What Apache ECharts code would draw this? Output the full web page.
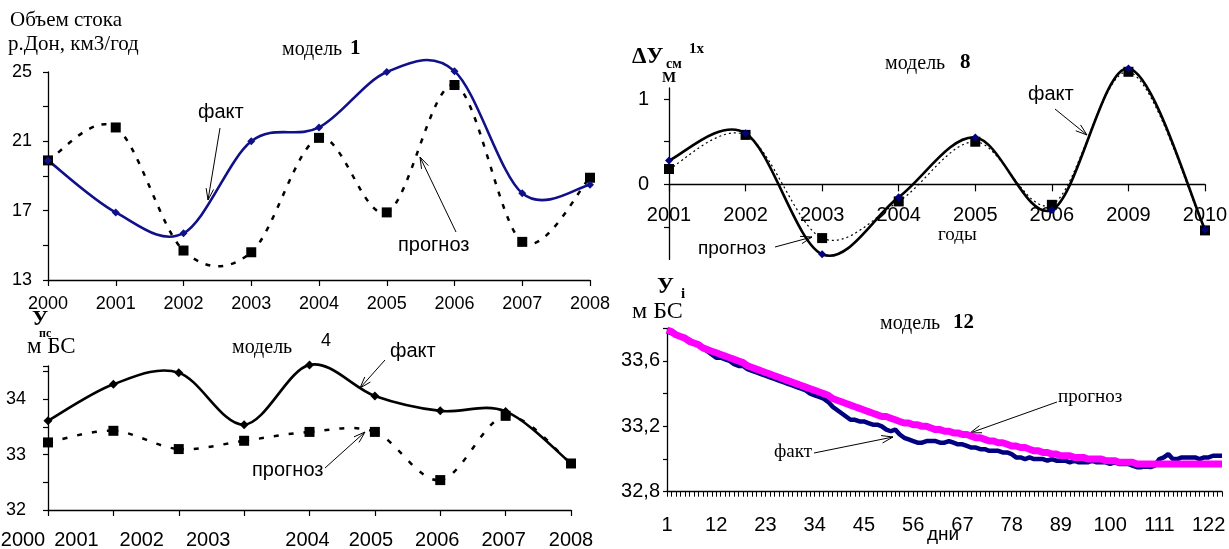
<!DOCTYPE html>
<html><head><meta charset="utf-8">
<script src="https://cdn.jsdelivr.net/npm/echarts@6/dist/echarts.min.js"></script>
<style>html,body{margin:0;padding:0;background:#fff}#c{width:1229px;height:549px}</style>
</head><body><div id="c"></div>
<script>
// ---- Data ----
const years1 = ['2000','2001','2002','2003','2004','2005','2006','2007','2008'];
const fact1 = [19.9, 16.9, 15.7, 21.0, 21.8, 25.0, 25.05, 18.0, 18.5];
const prog1 = [19.9, 21.8, 14.7, 14.6, 21.2, 16.9, 24.25, 15.2, 18.9];
const yTicks1 = [13, 17, 21, 25];

const years2 = ['2000','2001','2002','2003','2004','2005','2006','2007','2008'];
const fact2 = [33.61, 34.27, 34.48, 33.54, 34.62, 34.06, 33.79, 33.78, 32.84];
const prog2 = [33.22, 33.43, 33.10, 33.25, 33.41, 33.41, 32.54, 33.70, 32.84];
const yTicks2 = [32, 33, 34];

const years3 = ['2001','2002','2003','2004','2005','2006','2009','2010'];
const fact3 = [0.28, 0.60, -0.82, -0.15, 0.55, -0.30, 1.36, -0.53];
const prog3 = [0.18, 0.58, -0.63, -0.20, 0.50, -0.24, 1.32, -0.54];
const yTicks3 = [-0.5, 0, 0.5, 1];
const yLabels3 = [0, 1];

const days4 = [];
for (let d = 1; d <= 125; d++) days4.push(String(d));
const prog4 = [
 33.79,33.78,33.76,33.75,33.74,33.72,33.71,33.70,33.68,33.67,
 33.66,33.65,33.64,33.63,33.62,33.61,33.60,33.59,33.57,33.56,
 33.55,33.54,33.53,33.52,33.51,33.50,33.49,33.48,33.47,33.46,
 33.45,33.44,33.43,33.42,33.41,33.40,33.39,33.37,33.36,33.35,
 33.34,33.33,33.32,33.31,33.30,33.29,33.28,33.27,33.26,33.26,
 33.25,33.24,33.23,33.22,33.22,33.21,33.21,33.20,33.20,33.19,
 33.18,33.18,33.17,33.17,33.16,33.16,33.15,33.15,33.14,33.13,
 33.13,33.12,33.11,33.11,33.10,33.10,33.09,33.08,33.08,33.07,
 33.07,33.06,33.05,33.05,33.04,33.04,33.03,33.03,33.02,33.02,
 33.02,33.01,33.01,33.01,33.00,33.00,33.00,33.00,32.99,32.99,
 32.99,32.98,32.98,32.98,32.98,32.97,32.97,32.97,32.97,32.97,
 32.97,32.97,32.97,32.97,32.97,32.97,32.97,32.97,32.97,32.97,
 32.97,32.97,32.97,32.97,32.97];
const fact4 = [
 33.78,33.77,33.76,33.75,33.74,33.73,33.71,33.70,33.68,33.66,
 33.64,33.62,33.62,33.61,33.60,33.58,33.57,33.57,33.55,33.54,
 33.53,33.52,33.51,33.50,33.49,33.48,33.47,33.46,33.45,33.44,
 33.43,33.42,33.40,33.39,33.38,33.37,33.35,33.32,33.30,33.28,
 33.26,33.24,33.24,33.23,33.23,33.22,33.21,33.21,33.20,33.18,
 33.17,33.18,33.15,33.13,33.12,33.11,33.10,33.10,33.11,33.11,
 33.11,33.10,33.10,33.11,33.10,33.09,33.09,33.08,33.07,33.07,
 33.06,33.06,33.05,33.05,33.05,33.04,33.04,33.03,33.01,33.01,
 33.00,33.01,33.00,33.00,33.00,32.99,33.00,32.99,32.99,32.99,
 32.98,32.99,32.98,32.98,32.98,32.99,32.98,32.98,32.98,32.97,
 32.98,32.97,32.97,32.97,32.96,32.95,32.95,32.96,32.95,32.96,
 33.00,33.01,33.03,33.00,33.00,33.01,33.01,33.01,33.01,33.00,
 33.01,33.01,33.02,33.02,33.02];
const yTicks4 = [32.8, 33.2, 33.6];

// ---- Styles ----
const SANS = 'Liberation Sans, Arial, sans-serif';
const SERIF = 'Liberation Serif, Times New Roman, serif';
const axisLine = {show: true, onZero: false, lineStyle: {color: '#000', width: 1.3}};
const tick = (len) => ({show: true, length: len, lineStyle: {color: '#000', width: 1.2}});
const has = (arr, v) => arr.some(t => Math.abs(t - v) < 1e-6);
// horizontal shift (px, leftwards) of the bottom-left chart's year labels, as in the source picture
const labelShift2 = [25, 37, 37, 36, 2, 4, 3, 2, 0];

const chart = echarts.init(document.getElementById('c'), null, {renderer: 'canvas'});

// Smoothed (Catmull-Rom, like a spreadsheet "smoothed line") curve through the data points,
// drawn segment by segment from the axis coordinates of the data.
function spline(xi, yi, data, color, width, dash) {
  const n = data.length;
  return {
    type: 'custom', xAxisIndex: xi, yAxisIndex: yi, silent: true, clip: false,
    data: data.map((v, i) => [i, v]), encode: {x: 0, y: 1},
    renderItem: (params, api) => {
      const i = params.dataIndex;
      if (i >= n - 1) return null;
      const P = k => { k = Math.max(0, Math.min(n - 1, k)); return api.coord([k, data[k]]); };
      const p0 = P(i - 1), p1 = P(i), p2 = P(i + 1), p3 = P(i + 2);
      return {
        type: 'bezierCurve',
        shape: {x1: p1[0], y1: p1[1], x2: p2[0], y2: p2[1],
          cpx1: p1[0] + (p2[0] - p0[0]) / 6, cpy1: p1[1] + (p2[1] - p0[1]) / 6,
          cpx2: p2[0] - (p3[0] - p1[0]) / 6, cpy2: p2[1] - (p3[1] - p1[1]) / 6},
        style: {stroke: color, lineWidth: width, lineDash: dash || null, fill: null}
      };
    }
  };
}
function markers(xi, yi, data, symbol, size, color) {
  return {type: 'line', xAxisIndex: xi, yAxisIndex: yi, data, clip: false,
    symbol, symbolSize: size, itemStyle: {color}, lineStyle: {width: 0, opacity: 0}, z: 3};
}

// ---- Annotations ----
const g = [];
function txt(x, y, s, size, font, bold) {
  g.push({type: 'text', left: x, top: y - size * 0.62, silent: true,
    style: {text: s, font: (bold ? 'bold ' : '') + size + 'px ' + font, fill: '#000'}});
}
function arrow(x1, y1, x2, y2) {
  g.push({type: 'line', silent: true, shape: {x1, y1, x2, y2}, style: {stroke: '#000', lineWidth: 1}});
  const a = Math.atan2(y1 - y2, x1 - x2), L = 12, s = 0.32;
  g.push({type: 'polyline', silent: true, shape: {points: [
    [x2 + L * Math.cos(a + s), y2 + L * Math.sin(a + s)], [x2, y2],
    [x2 + L * Math.cos(a - s), y2 + L * Math.sin(a - s)]]},
    style: {stroke: '#000', lineWidth: 1, fill: null}});
}
// chart 1
txt(10, 23, 'Объем стока', 21, SERIF);
txt(8, 47, 'р.Дон, км3/год', 21, SERIF);
txt(282, 52, 'модель', 20, SERIF);
txt(350, 51, '1', 21, SERIF, true);
txt(198, 115, 'факт', 20, SANS);
txt(398, 248, 'прогноз', 20, SANS);
arrow(220, 128, 208, 200);
arrow(456, 232, 420, 157);
// chart 2
txt(32, 322, 'У', 22, SERIF, true);
txt(39, 335, 'пс', 12, SERIF, true);
txt(27, 350, 'м БС', 23, SERIF);
txt(232, 350, 'модель', 20, SERIF);
txt(321, 343, '4', 18, SANS);
txt(390, 354, 'факт', 20, SANS);
txt(252, 473, 'прогноз', 20, SANS);
arrow(385, 360, 360, 388);
arrow(325, 468, 365, 432);
// chart 3
txt(632, 60, 'ΔУ', 23, SERIF, true);
txt(666, 66, 'см', 14, SERIF, true);
txt(689, 51, '1х', 15, SERIF, true);
txt(662, 80, 'М', 15, SERIF, true);
txt(885, 66, 'модель', 20, SERIF);
txt(960, 65, '8', 21, SERIF, true);
txt(1028, 97, 'факт', 20, SANS);
txt(698, 251, 'прогноз', 19, SANS);
txt(938, 237, 'годы', 19, SERIF);
arrow(1055, 109, 1087, 135);
arrow(775, 247, 812, 237);
// chart 4
txt(657, 290, 'У', 23, SERIF, true);
txt(681, 296, 'i', 15, SERIF, true);
txt(632, 315, 'м БС', 24, SERIF);
txt(880, 326, 'модель', 20, SERIF);
txt(953, 325, '12', 21, SERIF, true);
txt(1058, 399, 'прогноз', 19, SERIF);
txt(774, 454, 'факт', 19, SERIF);
txt(927, 537, 'дни', 19, SANS);
arrow(1057, 402, 970, 433);
arrow(814, 453, 893, 437);

const G3_TOP = 88, G3_H = 171.4, Y3_MIN = -0.88, Y3_MAX = 1.13;
const zeroOffset3 = -G3_H * (0 - Y3_MIN) / (Y3_MAX - Y3_MIN);

const rich2 = {};
labelShift2.forEach((s, i) => {
  rich2['s' + i] = {fontFamily: SANS, fontSize: 20, color: '#000', padding: [0, 2 * s, 0, 0]};
});

const option = {
  animation: false,
  backgroundColor: '#fff',
  grid: [
    {left: 48, top: 72, width: 542, height: 208, outerBoundsMode: 'none'},
    {left: 48, top: 366, width: 523, height: 144, outerBoundsMode: 'none'},
    {left: 669, top: G3_TOP, width: 536, height: G3_H, outerBoundsMode: 'none'},
    {left: 667, top: 328.3, width: 555, height: 163.4, outerBoundsMode: 'none'}
  ],
  xAxis: [
    {gridIndex: 0, type: 'category', data: years1, boundaryGap: false, axisLine,
     axisTick: tick(6), axisLabel: {interval: 0, fontFamily: SANS, fontSize: 18, color: '#000', margin: 15}},
    {gridIndex: 1, type: 'category', data: years2, boundaryGap: false, axisLine,
     axisTick: tick(6), axisLabel: {interval: 0, fontFamily: SANS, fontSize: 20, color: '#000', margin: 20,
       formatter: (v, i) => '{s' + i + '|' + v + '}', rich: rich2}},
    {gridIndex: 2, type: 'category', data: years3, boundaryGap: false, offset: zeroOffset3, axisLine,
     axisTick: tick(7), axisLabel: {interval: 0, fontFamily: SANS, fontSize: 20, color: '#000', margin: 21}},
    {gridIndex: 3, type: 'category', data: days4, boundaryGap: false, axisLine,
     axisTick: {show: true, length: 5, interval: 0, lineStyle: {color: '#000', width: 1}},
     axisLabel: {interval: 10, fontFamily: SANS, fontSize: 20, color: '#000', margin: 24}}
  ],
  yAxis: [
    {gridIndex: 0, type: 'value', min: 13, max: 25, interval: 2, axisLine, axisTick: tick(5),
     splitLine: {show: false},
     axisLabel: {fontFamily: SANS, fontSize: 18, color: '#000', margin: 16,
       formatter: v => has(yTicks1, v) ? String(v) : ''}},
    {gridIndex: 1, type: 'value', min: 32, max: 34.6, interval: 0.5, axisLine, axisTick: tick(5),
     splitLine: {show: false},
     axisLabel: {fontFamily: SANS, fontSize: 18, color: '#000', margin: 22,
       formatter: v => has(yTicks2, v) ? String(Math.round(v)) : ''}},
    {gridIndex: 2, type: 'value', min: Y3_MIN, max: Y3_MAX, axisLine,
     axisTick: {show: true, length: 5, customValues: yTicks3, lineStyle: {color: '#000', width: 1.2}},
     splitLine: {show: false},
     axisLabel: {fontFamily: SANS, fontSize: 20, color: '#000', margin: 20, customValues: yLabels3,
       formatter: v => has(yLabels3, v) ? String(Math.round(v)) : ''}},
    {gridIndex: 3, type: 'value', min: 32.8, max: 33.8, interval: 0.2, axisLine, axisTick: tick(4),
     splitLine: {show: false},
     axisLabel: {fontFamily: SANS, fontSize: 20, color: '#000', margin: 7,
       formatter: v => has(yTicks4, v) ? v.toFixed(1).replace('.', ',') : ''}}
  ],
  series: [
    spline(0, 0, prog1, '#000', 2.5, [5, 8]),
    spline(0, 0, fact1, '#10108a', 2.6),
    markers(0, 0, prog1, 'rect', 10, '#000'),
    markers(0, 0, fact1, 'diamond', 8, '#10108a'),

    spline(1, 1, prog2, '#000', 2.5, [5, 10]),
    spline(1, 1, fact2, '#000', 2.6),
    markers(1, 1, prog2, 'rect', 10, '#000'),
    markers(1, 1, fact2, 'diamond', 9, '#000'),

    spline(2, 2, prog3, '#000', 1.2, [2, 3]),
    spline(2, 2, fact3, '#000', 2.6),
    markers(2, 2, prog3, 'rect', 10, '#000'),
    markers(2, 2, fact3, 'diamond', 8, '#000080'),

    {name: 'факт', type: 'line', xAxisIndex: 3, yAxisIndex: 3, data: fact4, smooth: false,
     symbol: 'none', lineStyle: {color: '#000080', width: 4.5}},
    {name: 'прогноз', type: 'line', xAxisIndex: 3, yAxisIndex: 3, data: prog4, smooth: false,
     symbol: 'none', lineStyle: {color: '#ff00ff', width: 7}}
  ],
  graphic: g
};
chart.setOption(option);
</script>
</body></html>
